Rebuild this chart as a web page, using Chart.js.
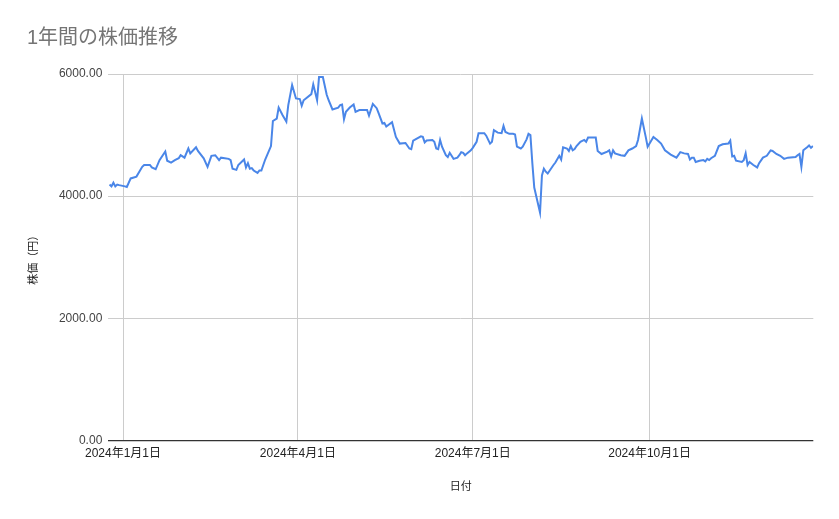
<!DOCTYPE html>
<html lang="ja">
<head>
<meta charset="utf-8">
<title>1年間の株価推移</title>
<script src="https://cdn.jsdelivr.net/npm/chart.js@4/dist/chart.umd.min.js"></script>
<style>
	html, body { margin: 0; padding: 0; background: #fff; }
	#wrapper { width: 839px; height: 519px; }
</style>
</head>
<body>
<div id="wrapper"><canvas id="stockChart" width="839" height="519"></canvas></div>
<script>
// days counted from 2024-01-01 (0 = 1月1日)
const days = [
	-7, -6, -5, -4, -3, -2, 1, 2, 4, 7,
	10, 11, 14, 15, 17, 19, 22, 23, 25, 27,
	29, 30, 32, 34, 35, 38, 39, 42, 44, 46,
	48, 50, 51, 55, 56, 57, 59, 60, 63, 64,
	65, 66, 67, 68, 70, 71, 72, 74, 77, 78,
	80, 81, 83, 85, 86, 88, 90, 92, 93, 94,
	98, 99, 101, 102, 104, 106, 107, 109, 112, 113,
	114, 115, 116, 118, 120, 121, 123, 127, 128, 130,
	132, 133, 135, 136, 137, 140, 142, 144, 147, 149,
	150, 151, 155, 156, 157, 158, 161, 162, 163, 164,
	165, 166, 168, 169, 170, 172, 174, 175, 176, 177,
	178, 179, 181, 182, 184, 185, 188, 189, 191, 192,
	193, 195, 197, 198, 199, 201, 203, 204, 205, 207,
	208, 210, 211, 212, 213, 214, 217, 218, 219, 220,
	221, 224, 225, 227, 228, 229, 231, 232, 233, 234,
	235, 236, 238, 240, 241, 242, 244, 246, 247, 249,
	252, 253, 254, 255, 256, 259, 261, 263, 265, 267,
	268, 270, 272, 273, 276, 278, 280, 282, 285, 288,
	290, 292, 294, 295, 296, 297, 298, 300, 302, 303,
	304, 305, 306, 308, 310, 312, 315, 316, 317, 318,
	319, 322, 323, 324, 325, 326, 328, 330, 331, 333,
	335, 337, 338, 340, 342, 344, 346, 350, 351, 352,
	353, 354, 356, 357, 358, 359
];

const prices = [
	4190, 4160, 4220, 4160, 4190, 4180, 4160, 4150, 4290, 4320,
	4480, 4510, 4510, 4470, 4440, 4590, 4730, 4580, 4550, 4590,
	4620, 4670, 4630, 4780, 4700, 4800, 4740, 4620, 4480, 4660,
	4670, 4590, 4630, 4610, 4590, 4450, 4430, 4510, 4600, 4470,
	4540, 4450, 4460, 4420, 4380, 4420, 4420, 4600, 4820, 5230,
	5270, 5450, 5330, 5220, 5490, 5820, 5600, 5590, 5480, 5570,
	5670, 5830, 5570, 5950, 5950, 5660, 5570, 5420, 5450, 5490,
	5500, 5260, 5380, 5450, 5500, 5380, 5410, 5410, 5320, 5510,
	5440, 5360, 5190, 5200, 5140, 5210, 4970, 4860, 4870, 4780,
	4770, 4910, 4980, 4970, 4880, 4910, 4920, 4890, 4780, 4770,
	4920, 4810, 4670, 4640, 4710, 4610, 4630, 4670, 4720, 4710,
	4670, 4700, 4750, 4790, 4890, 5030, 5030, 4990, 4860, 4890,
	5080, 5040, 5030, 5150, 5050, 5020, 5020, 5010, 4810, 4780,
	4810, 4930, 5020, 5000, 4540, 4140, 3730, 4340, 4450, 4400,
	4370, 4510, 4550, 4660, 4600, 4800, 4780, 4740, 4820, 4750,
	4770, 4820, 4890, 4920, 4890, 4960, 4960, 4960, 4740, 4690,
	4730, 4750, 4650, 4750, 4700, 4670, 4660, 4750, 4780, 4820,
	4920, 5270, 4970, 4810, 4970, 4920, 4860, 4750, 4680, 4630,
	4720, 4700, 4690, 4600, 4630, 4630, 4560, 4580, 4590, 4570,
	4610, 4590, 4620, 4660, 4820, 4850, 4860, 4910, 4650, 4660,
	4580, 4560, 4590, 4700, 4510, 4560, 4510, 4470, 4540, 4630,
	4660, 4750, 4740, 4690, 4660, 4610, 4630, 4640, 4670, 4690,
	4480, 4750, 4800, 4830, 4790, 4820
];

const tickDays = [0, 91, 182, 274];
const tickLabels = ['2024年1月1日', '2024年4月1日', '2024年7月1日', '2024年10月1日'];
const yTicks = [0, 2000, 4000, 6000];

const FONT = 'Arial, "Liberation Sans", "Noto Sans CJK JP", sans-serif';

function drawChart() {
	const ctx = document.getElementById('stockChart').getContext('2d');

	const points = days.map(function(d, i) {
		return { x: d, y: prices[i] };
	});

	new Chart(ctx, {
		type: 'line',
		data: {
			datasets: [{
				label: '株価（円）',
				data: points,
				borderColor: '#4a86e8',
				borderWidth: 2,
				pointRadius: 0,
				tension: 0,
				fill: false
			}]
		},
		options: {
			responsive: false,
			animation: false,
			layout: {
				padding: { left: 27, right: 25.7, top: 26, bottom: 20 }
			},
			plugins: {
				legend: { display: false },
				tooltip: { enabled: false },
				title: {
					display: true,
					text: '1年間の株価推移',
					align: 'start',
					color: '#757575',
					font: { family: FONT, size: 20, weight: 'normal' },
					padding: { top: 0, bottom: 24 }
				}
			},
			scales: {
				x: {
					type: 'linear',
					min: -7.65,
					max: 359.2,
					border: { display: false },
					grid: { color: '#cccccc', drawTicks: false },
					afterBuildTicks: function(scale) {
						scale.ticks = tickDays.map(function(v) { return { value: v }; });
					},
					afterFit: function(scale) {
						scale.height = 58.6;
					},
					ticks: {
						autoSkip: false,
						maxRotation: 0,
						padding: 6,
						color: '#222',
						font: { family: FONT, size: 12 },
						callback: function(value) {
							const i = tickDays.indexOf(value);
							return i >= 0 ? tickLabels[i] : '';
						}
					},
					title: {
						display: true,
						text: '日付',
						color: '#222',
						font: { family: FONT, size: 11 },
						padding: { top: 5, bottom: 5 }
					}
				},
				y: {
					min: 0,
					max: 6000,
					border: { display: false },
					grid: {
						drawTicks: false,
						color: function(c) {
							return c.tick && c.tick.value === 0 ? '#333333' : '#cccccc';
						},
						lineWidth: function(c) {
							return c.tick && c.tick.value === 0 ? 1.3 : 1;
						}
					},
					afterBuildTicks: function(scale) {
						scale.ticks = yTicks.map(function(v) { return { value: v }; });
					},
					afterFit: function(scale) {
						scale.width = 81.3;
					},
					ticks: {
						padding: 6,
						color: '#444',
						font: { family: FONT, size: 12 },
						callback: function(value) {
							return Number(value).toFixed(2);
						}
					},
					title: {
						display: true,
						text: '株価（円）',
						color: '#222',
						font: { family: FONT, size: 11 },
						padding: 0
					}
				}
			}
		}
	});
}

drawChart();
</script>
</body>
</html>
